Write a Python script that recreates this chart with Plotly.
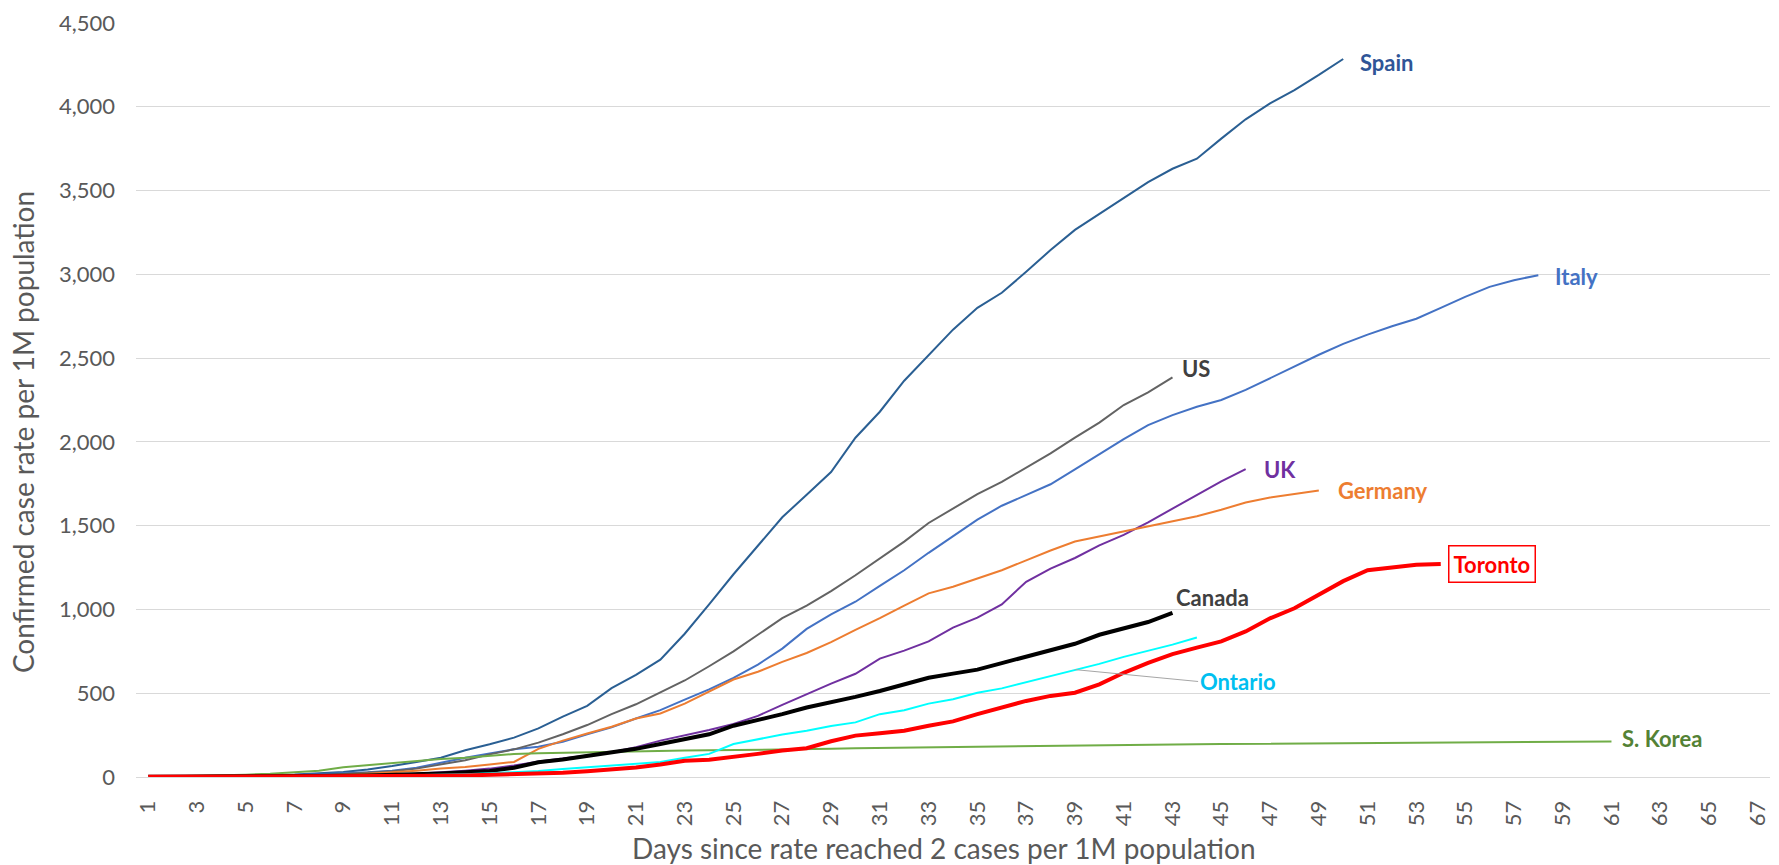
import plotly.graph_objects as go

# ---------------- data ----------------
spain = [2, 3, 4, 6, 8, 11, 15, 22, 30, 45, 65, 90, 115, 160, 195, 235, 290, 360, 425, 530,
         610, 700, 855, 1030, 1210, 1380, 1550, 1685, 1820, 2025, 2180, 2365, 2520, 2670, 2800,
         2890, 3015, 3145, 3265, 3360, 3460, 3550, 3630, 3690, 3810, 3925, 4020, 4100, 4190, 4285]
italy = [2, 3, 4, 5, 7, 9, 12, 16, 20, 28, 38, 55, 85, 115, 140, 165, 180, 210, 255, 296,
         349, 399, 462, 523, 592, 671, 766, 884, 971, 1046, 1141, 1234, 1338, 1437, 1536, 1619,
         1682, 1747, 1836, 1925, 2017, 2100, 2160, 2210, 2250, 2310, 2380, 2450, 2520, 2585,
         2640, 2690, 2735, 2800, 2865, 2925, 2965, 2995]
us = [2, 2, 3, 4, 5, 7, 9, 12, 18, 25, 35, 50, 75, 100, 135, 165, 205, 255, 310, 375,
      434, 503, 576, 661, 750, 849, 948, 1023, 1109, 1204, 1303, 1405, 1516, 1603, 1688,
      1761, 1846, 1931, 2025, 2115, 2220, 2295, 2385]
uk = [1, 1, 2, 2, 3, 4, 5, 6, 8, 11, 15, 20, 28, 38, 50, 68, 92, 108, 128, 148,
      178, 217, 247, 280, 316, 365, 430, 494, 557, 616, 707, 754, 809, 892, 951, 1030,
      1165, 1244, 1307, 1382, 1445, 1520, 1603, 1685, 1765, 1838]
germany = [2, 2, 3, 4, 5, 6, 8, 10, 14, 20, 28, 38, 50, 60, 75, 90, 168, 217, 260, 300,
           349, 379, 438, 509, 582, 628, 687, 740, 805, 878, 948, 1023, 1096, 1135, 1184,
           1234, 1293, 1352, 1405, 1435, 1465, 1496, 1524, 1556, 1595, 1638, 1668, 1690, 1710]
s_korea = [2, 4, 7, 10, 14, 19, 28, 38, 58, 70, 83, 97, 108, 115, 127, 137, 142, 145, 150, 152,
           154, 156, 158, 159, 160, 162, 164, 166, 168, 172, 174, 175, 176, 178, 179, 181,
           183, 185, 187, 189, 190, 192, 194, 196, 197, 198, 199, 200, 201, 202, 203, 204,
           204, 205, 205, 206, 207, 208, 210, 211, 212]
canada = [1, 1, 1, 2, 2, 3, 4, 5, 7, 9, 12, 16, 21, 28, 36, 55, 88, 105, 125, 145,
          168, 197, 227, 255, 306, 340, 375, 415, 444, 478, 513, 552, 592, 617, 641, 680,
          720, 755, 795, 849, 888, 925, 980]
ontario = [1, 1, 1, 1, 2, 2, 3, 4, 5, 6, 8, 10, 13, 17, 22, 28, 36, 47, 58, 69,
           79, 89, 115, 138, 197, 227, 253, 276, 304, 326, 375, 399, 438, 464, 503, 529,
           565, 602, 641, 675, 717, 754, 790, 833]
toronto = [1, 1, 1, 1, 1, 2, 2, 2, 3, 3, 4, 5, 7, 9, 12, 15, 20, 26, 35, 45,
           57, 75, 97, 103, 118, 138, 158, 172, 213, 247, 261, 276, 306, 332, 375, 415,
           454, 484, 503, 553, 622, 681, 733, 772, 809, 869, 947, 1007, 1086, 1169, 1234,
           1253, 1267, 1271]

series_names = ["Spain", "Italy", "US", "UK", "Germany", "S. Korea", "Canada", "Ontario", "Toronto"]
series_values = [spain, italy, us, uk, germany, s_korea, canada, ontario, toronto]

x_tick_values = list(range(1, 68, 2))
y_tick_values = list(range(0, 4501, 500))

# ---------------- styles ----------------
FONT = "Lato"
line_style = {
    "Spain":    dict(color="#2A5F93", width=2),
    "Italy":    dict(color="#4472C4", width=2),
    "US":       dict(color="#636363", width=2),
    "UK":       dict(color="#7030A0", width=2),
    "Germany":  dict(color="#ED7D31", width=2),
    "S. Korea": dict(color="#70AD47", width=2),
    "Canada":   dict(color="#000000", width=4),
    "Ontario":  dict(color="#00FFFF", width=2),
    "Toronto":  dict(color="#FF0000", width=4),
}
label_style = {
    # color, xshift, yshift (pixels from the last point of the series)
    "Spain":    ("#2F5597", 15, -3),
    "Italy":    ("#4472C4", 15, -1),
    "US":       ("#404040", 8, 9),
    "UK":       ("#7030A0", 16, 0),
    "Germany":  ("#ED7D31", 17, 0),
    "S. Korea": ("#548235", 9, 3),
    "Canada":   ("#404040", 2, 15),
    "Toronto":  ("#FF0000", 7, 0),
}

fig = go.Figure()
for name, vals in zip(series_names, series_values):
    days = list(range(1, len(vals) + 1))
    fig.add_trace(go.Scatter(x=days, y=vals, mode="lines", name=name,
                             line=dict(color=line_style[name]["color"],
                                       width=line_style[name]["width"]),
                             hoverinfo="x+y+name"))

annotations = []
for name, vals in zip(series_names, series_values):
    if name not in label_style:
        continue
    color, xs, ys = label_style[name]
    ann = dict(x=len(vals), y=vals[-1], xref="x", yref="y", text=name,
               showarrow=False, xanchor="left", yanchor="middle",
               xshift=xs, yshift=ys,
               font=dict(family=FONT, size=22, color=color, weight="bold"))
    if name == "Toronto":
        ann.update(bordercolor="#FF0000", borderwidth=1.5, borderpad=4)
    annotations.append(ann)

# Ontario label with leader line to day 39
leader_day = 39
annotations.append(dict(x=leader_day, y=ontario[leader_day - 1], xref="x", yref="y",
                        ax=len(ontario) + 0.05, ay=570, axref="x", ayref="y",
                        text="Ontario", showarrow=True, arrowhead=0, arrowwidth=1,
                        arrowcolor="#A6A6A6", xanchor="left", yanchor="middle",
                        font=dict(family=FONT, size=22, color="#00BFF0", weight="bold")))

# axis titles
annotations.append(dict(x=-0.0695, y=0.458, xref="paper", yref="paper",
                        text="Confirmed case rate per 1M population", textangle=-90,
                        showarrow=False, xanchor="center", yanchor="middle",
                        font=dict(family=FONT, size=28, color="#595959")))
annotations.append(dict(x=0.4943, y=-0.094, xref="paper", yref="paper",
                        text="Days since rate reached 2 cases per 1M population",
                        showarrow=False, xanchor="center", yanchor="middle",
                        font=dict(family=FONT, size=28, color="#595959")))

fig.update_layout(
    width=1779, height=865,
    margin=dict(l=136, r=9, t=18, b=88),
    paper_bgcolor="white", plot_bgcolor="white",
    showlegend=False,
    font=dict(family=FONT, size=22, color="#595959"),
    annotations=annotations,
    xaxis=dict(range=[0.5, 67.5], tickmode="array", tickvals=x_tick_values,
               ticktext=[str(v) for v in x_tick_values], tickangle=-90,
               showgrid=False, zeroline=False, showline=True, linecolor="#D9D9D9",
               linewidth=1, ticks="", ticklabelstandoff=14,
               tickfont=dict(family=FONT, size=22, color="#595959")),
    yaxis=dict(range=[0, 4500], tickmode="array", tickvals=y_tick_values,
               tickformat=",", showgrid=True, gridcolor="#D9D9D9", gridwidth=1,
               zeroline=False, showline=False, ticks="", ticklabelstandoff=20,
               tickfont=dict(family=FONT, size=22, color="#595959")),
)

fig.write_html("out.html", config={"displayModeBar": False},
               post_script="document.body.style.margin='0';document.body.style.overflow='hidden';")
